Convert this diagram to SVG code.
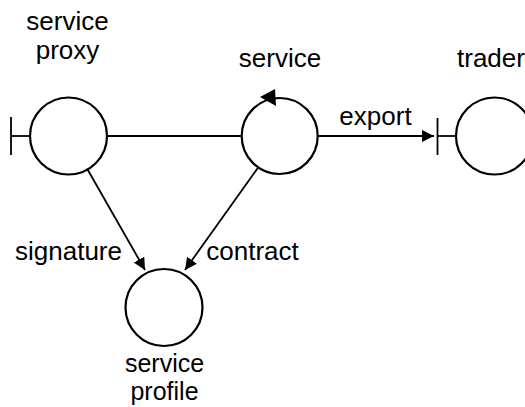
<svg xmlns="http://www.w3.org/2000/svg" width="525" height="407" viewBox="0 0 525 407">
  <style>
    text { font-family: "Liberation Sans", Arial, sans-serif; font-size: 26px; fill: #000; }
    .node { fill: #fff; stroke: #000; stroke-width: 2.2; }
    .edge { fill: none; stroke: #000; stroke-width: 1.8; }
    .mid { text-anchor: middle; }
    .small { font-size: 25px; }
  </style>
  <defs>
    <marker id="arrow" markerUnits="userSpaceOnUse" markerWidth="13" markerHeight="12" refX="12" refY="6" orient="auto">
      <path d="M0,0 L12,6 L0,12 z" fill="#000"/>
    </marker>
  </defs>

  <!-- connectors -->
  <g id="connectors">
    <line class="edge" x1="107" y1="136" x2="241.5" y2="136"/>
    <line class="edge" x1="318" y1="136" x2="434" y2="136" marker-end="url(#arrow)"/>
    <line class="edge" x1="87" y1="168.5" x2="145" y2="270" marker-end="url(#arrow)"/>
    <line class="edge" x1="258.5" y1="167" x2="185" y2="270" marker-end="url(#arrow)"/>
    <text x="375.5" y="125" class="mid">export</text>
    <text x="68.5" y="260" class="mid">signature</text>
    <text x="252.5" y="260" class="mid">contract</text>
  </g>

  <!-- service proxy -->
  <g id="service-proxy">
    <line class="edge" x1="11" y1="117" x2="11" y2="155"/>
    <line class="edge" x1="11" y1="136" x2="30" y2="136"/>
    <circle class="node" cx="68.5" cy="136" r="38.5"/>
    <text x="67.5" y="30" class="mid">service</text>
    <text x="67.5" y="59" class="mid">proxy</text>
  </g>

  <!-- service -->
  <g id="service">
    <circle class="node" cx="279.7" cy="136" r="38"/>
    <polygon points="260,97 275,89 276,106" fill="#000"/>
    <text x="280" y="67" class="mid">service</text>
  </g>

  <!-- trader -->
  <g id="trader">
    <line class="edge" x1="437.5" y1="118" x2="437.5" y2="155"/>
    <line class="edge" x1="437.5" y1="136" x2="456" y2="136"/>
    <circle class="node" cx="494.5" cy="136" r="38.5"/>
    <text x="457" y="67">trader</text>
  </g>

  <!-- service profile -->
  <g id="service-profile">
    <circle class="node" cx="164" cy="307.5" r="38.5"/>
    <text x="164.5" y="372" class="mid small">service</text>
    <text x="164.5" y="400" class="mid small">profile</text>
  </g>
</svg>
